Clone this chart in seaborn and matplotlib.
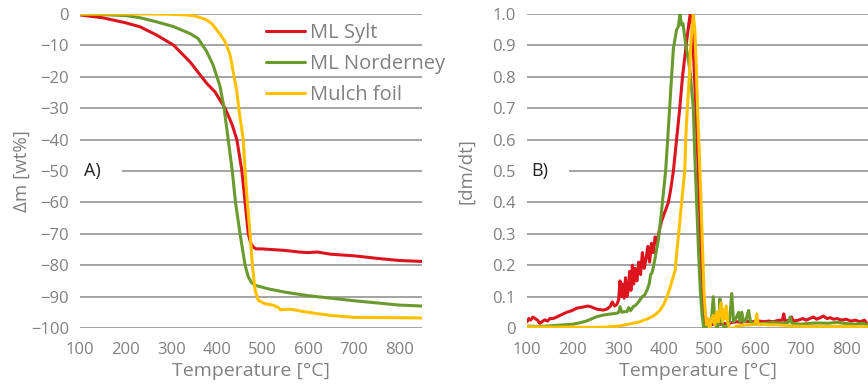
import matplotlib
matplotlib.use("Agg")
import matplotlib.pyplot as plt
from matplotlib.patches import Rectangle
import seaborn as sns

# --- Thermogravimetric data: mass change [wt%] vs temperature [°C] ---
tga_sylt_T = [100, 150, 200, 232, 268, 305, 341, 378, 396, 418, 433, 444, 455, 462, 469,
              474, 480, 486, 498, 550, 580, 600, 620, 650, 700, 750, 800, 850]
tga_sylt_m = [-0.3, -1.2, -2.8, -4.1, -6.7, -9.9, -15.2, -22.1, -24.8, -30, -35, -40, -50, -60, -70,
              -72.8, -74.2, -74.8, -74.8, -75.3, -75.8, -76, -75.8, -76.5, -77, -77.8, -78.5, -78.8]

tga_nord_T = [100, 150, 200, 232, 268, 305, 341, 359, 378, 392, 407, 416, 425, 434, 441,
              451, 462, 469, 476, 484, 512, 550, 600, 650, 700, 750, 800, 850]
tga_nord_m = [0, -0.2, -0.5, -1.2, -2.5, -4, -6.2, -7.8, -12, -16.3, -23, -30, -40, -50, -60,
              -70, -80, -83.7, -85.5, -86.4, -87.5, -88.6, -89.7, -90.5, -91.3, -92, -92.7, -93]

tga_mulch_T = [100, 250, 300, 334, 350, 365, 378, 390, 400, 410, 418, 424, 429, 436, 444, 449,
               458, 462, 467, 473, 478, 484, 491, 506, 525, 535, 540, 560, 600, 650, 700, 850]
tga_mulch_m = [0, 0, -0.1, -0.3, -0.6, -1.2, -1.9, -3.2, -5.1, -7, -8.8, -11, -13, -18.4, -24.8, -31,
               -40, -50, -60, -70, -80, -88, -91.2, -92.3, -92.8, -93.5, -94.2, -94, -95, -96, -96.6, -96.8]

# --- Normalised derivative [dm/dt] vs temperature [°C] ---
dtg_sylt_T = [100, 104, 108, 113, 118, 123, 128, 133, 139, 145, 150, 157, 165, 175, 187, 198,
              209, 220, 234, 243, 253, 267, 275, 282, 287, 292, 297, 301, 304, 307, 310, 313,
              316, 319, 322, 325, 328, 331, 334, 337, 341, 345, 349, 353, 357, 361, 365, 369,
              373, 377, 381, 385, 390, 395, 400, 405, 410, 415, 421, 428, 435, 441, 449, 455,
              458, 462, 468, 473, 478, 482, 486, 490, 495, 500, 510, 520, 530, 540, 550, 560,
              570, 580, 590, 600, 610, 620, 630, 640, 650, 660, 663, 666, 675, 680, 684, 695,
              705, 712, 720, 728, 735, 742, 750, 758, 765, 772, 780, 790, 800, 810, 820, 830,
              840, 845, 850]
dtg_sylt_v = [0.02, 0.03, 0.025, 0.035, 0.03, 0.025, 0.015, 0.02, 0.026, 0.022, 0.03, 0.03, 0.035, 0.042, 0.05, 0.055,
              0.063, 0.066, 0.07, 0.066, 0.06, 0.057, 0.06, 0.068, 0.083, 0.07, 0.075, 0.09, 0.15, 0.1, 0.14, 0.095,
              0.16, 0.1, 0.12, 0.18, 0.12, 0.2, 0.14, 0.19, 0.15, 0.21, 0.17, 0.24, 0.19, 0.22, 0.26, 0.21,
              0.27, 0.24, 0.29, 0.27, 0.31, 0.34, 0.36, 0.38, 0.4, 0.44, 0.5, 0.6, 0.7, 0.8, 0.9, 0.97,
              1.0, 0.97, 0.78, 0.6, 0.4, 0.2, 0.08, 0.02, 0.005, 0.01, 0.012, 0.01, 0.015, 0.012, 0.018, 0.02,
              0.018, 0.022, 0.02, 0.02, 0.022, 0.02, 0.022, 0.02, 0.024, 0.025, 0.045, 0.022, 0.025, 0.035, 0.022, 0.025,
              0.03, 0.025, 0.03, 0.035, 0.028, 0.032, 0.038, 0.03, 0.033, 0.028, 0.03, 0.025, 0.028, 0.022, 0.025, 0.02,
              0.025, 0.015, 0.015]

dtg_nord_T = [100, 120, 140, 160, 180, 200, 217, 230, 243, 253, 264, 275, 286, 297, 301, 304,
              308, 314, 319, 323, 327, 333, 338, 343, 348, 353, 358, 363, 368, 371, 374, 378,
              383, 388, 392, 397, 404, 408.5, 413.6, 417, 421, 428, 432, 435.5, 439, 442, 446.5, 452,
              457.5, 464.7, 468, 472, 476, 480, 484, 487, 492, 496, 500, 504, 508.6, 512, 516, 520,
              523, 527, 532, 538, 544, 549, 553, 558, 564, 567, 571, 575, 580, 586, 590, 596,
              605, 620, 640, 660, 673, 677, 681, 700, 720, 740, 760, 780, 800, 820, 835, 850]
dtg_nord_v = [0.006, 0.005, 0.006, 0.008, 0.01, 0.012, 0.017, 0.022, 0.03, 0.036, 0.04, 0.043, 0.045, 0.047, 0.05, 0.068,
              0.05, 0.052, 0.052, 0.065, 0.055, 0.068, 0.072, 0.08, 0.09, 0.1, 0.105, 0.12, 0.14, 0.17, 0.175, 0.2,
              0.24, 0.28, 0.33, 0.4, 0.5, 0.6, 0.72, 0.8, 0.89, 0.95, 0.96, 1.0, 0.965, 0.97, 0.92, 0.87,
              0.82, 0.7, 0.55, 0.4, 0.25, 0.12, 0.04, 0.005, 0.0, 0.01, 0.005, 0.02, 0.1, 0.02, 0.0, 0.01,
              0.093, 0.02, 0.0, 0.005, 0.02, 0.11, 0.02, 0.03, 0.05, 0.02, 0.05, 0.02, 0.025, 0.056, 0.02, 0.015,
              0.012, 0.015, 0.018, 0.015, 0.018, 0.035, 0.015, 0.012, 0.015, 0.016, 0.015, 0.018, 0.014, 0.012, 0.015, 0.01]

dtg_mulch_T = [100, 150, 200, 250, 275, 300, 326, 348, 370, 382, 392, 400, 407, 413, 418, 425,
               429, 434, 439, 446, 448, 451.6, 456, 459, 464.7, 468, 472, 474, 478, 481.6, 485, 488,
               491, 494, 497, 500, 504, 508, 512, 516, 520, 523, 526, 529, 532, 535, 537, 540,
               544, 548, 553, 560, 570, 580, 590, 600, 604, 607, 615, 630, 650, 680, 720, 760,
               800, 850]
dtg_mulch_v = [0.004, 0.003, 0.003, 0.002, 0.003, 0.006, 0.013, 0.02, 0.033, 0.043, 0.057, 0.075, 0.1, 0.125, 0.15, 0.185,
               0.25, 0.32, 0.4, 0.5, 0.6, 0.7, 0.8, 0.9, 1.0, 0.95, 0.8, 0.7, 0.55, 0.4, 0.25, 0.12,
               0.05, 0.01, 0.03, 0.0, 0.02, 0.04, 0.01, 0.05, 0.02, 0.06, 0.08, 0.02, 0.06, 0.03, 0.07, 0.02,
               0.0, -0.008, 0.0, 0.006, 0.008, 0.01, 0.01, 0.012, 0.045, 0.01, 0.012, 0.01, 0.01, 0.006, 0.005, 0.005,
               0.005, 0.004]

series_names = ["ML Sylt", "ML Norderney", "Mulch foil"]
series_colors = ["#DC141E", "#6A9A2E", "#FFC000"]
x_ticks = [100, 200, 300, 400, 500, 600, 700, 800]
tga_ticks = [0, -10, -20, -30, -40, -50, -60, -70, -80, -90, -100]
dtg_ticks = [0, 0.1, 0.2, 0.3, 0.4, 0.5, 0.6, 0.7, 0.8, 0.9, 1.0]

sns.set_theme(style="white")
plt.rcParams["font.family"] = ["Open Sans", "DejaVu Sans"]
plt.rcParams["axes.unicode_minus"] = True

TXT = "#808080"
GRID = "#A3A3A3"
LW = 2.2

fig = plt.figure(figsize=(8.68, 3.84), dpi=100)
ax1 = fig.add_axes([80 / 868, 1 - 328 / 384, 342 / 868, 314 / 384])
ax2 = fig.add_axes([527 / 868, 1 - 328 / 384, 342 / 868, 314 / 384])

tga = [(tga_sylt_T, tga_sylt_m), (tga_nord_T, tga_nord_m), (tga_mulch_T, tga_mulch_m)]
dtg = [(dtg_sylt_T, dtg_sylt_v), (dtg_nord_T, dtg_nord_v), (dtg_mulch_T, dtg_mulch_v)]

for (t, m), name, c in zip(tga, series_names, series_colors):
    sns.lineplot(x=t, y=m, ax=ax1, color=c, lw=LW, label=name, sort=False, estimator=None)
for (t, v), name, c in zip(dtg, series_names, series_colors):
    sns.lineplot(x=t, y=v, ax=ax2, color=c, lw=LW, sort=False, estimator=None, legend=False)

for ax, ticks, lim in [(ax1, tga_ticks, (-100, 0)), (ax2, dtg_ticks, (0, 1.0))]:
    ax.set_xlim(100, 850)
    ax.set_ylim(*lim)
    ax.set_xticks(x_ticks)
    ax.set_yticks(ticks)
    ax.grid(axis="y", color=GRID, lw=1.4)
    ax.grid(axis="x", visible=False)
    ax.set_axisbelow(True)
    for s in ax.spines.values():
        s.set_visible(False)
    ax.tick_params(axis="y", colors=TXT, labelsize=12, length=0, pad=8)
    ax.tick_params(axis="x", colors=TXT, labelsize=12, length=0, pad=10)
    ax.set_xlabel("Temperature [°C]", color=TXT, fontsize=14, labelpad=3)

ax2.set_yticklabels(["0"] + [f"{v:.1f}" for v in dtg_ticks[1:]])
ax1.set_ylabel("Δm [wt%]", color=TXT, fontsize=13.5, labelpad=0)
ax2.set_ylabel("[dm/dt]", color=TXT, fontsize=13.5, labelpad=12)

# panel tags with a white gap in the gridline behind them
for ax, ymid, tag in [(ax1, 0.5, "A)"), (ax2, 0.5, "B)")]:
    ax.add_patch(Rectangle((0, ymid - 0.03), 0.123, 0.06, transform=ax.transAxes,
                           facecolor="white", edgecolor="none", zorder=1.5))
    ax.text(0.012, ymid, tag, transform=ax.transAxes, fontsize=13, color="#222222",
            ha="left", va="center", zorder=3)

leg = ax1.legend(loc="upper left", bbox_to_anchor=(0.544, 0.971), frameon=False,
                 fontsize=14.5, handlelength=1.95, handletextpad=0.25, labelspacing=0.55,
                 borderaxespad=0, borderpad=0)
for txt in leg.get_texts():
    txt.set_color(TXT)
leg.set_in_layout(False)

fig.savefig("out.png", dpi=100)
